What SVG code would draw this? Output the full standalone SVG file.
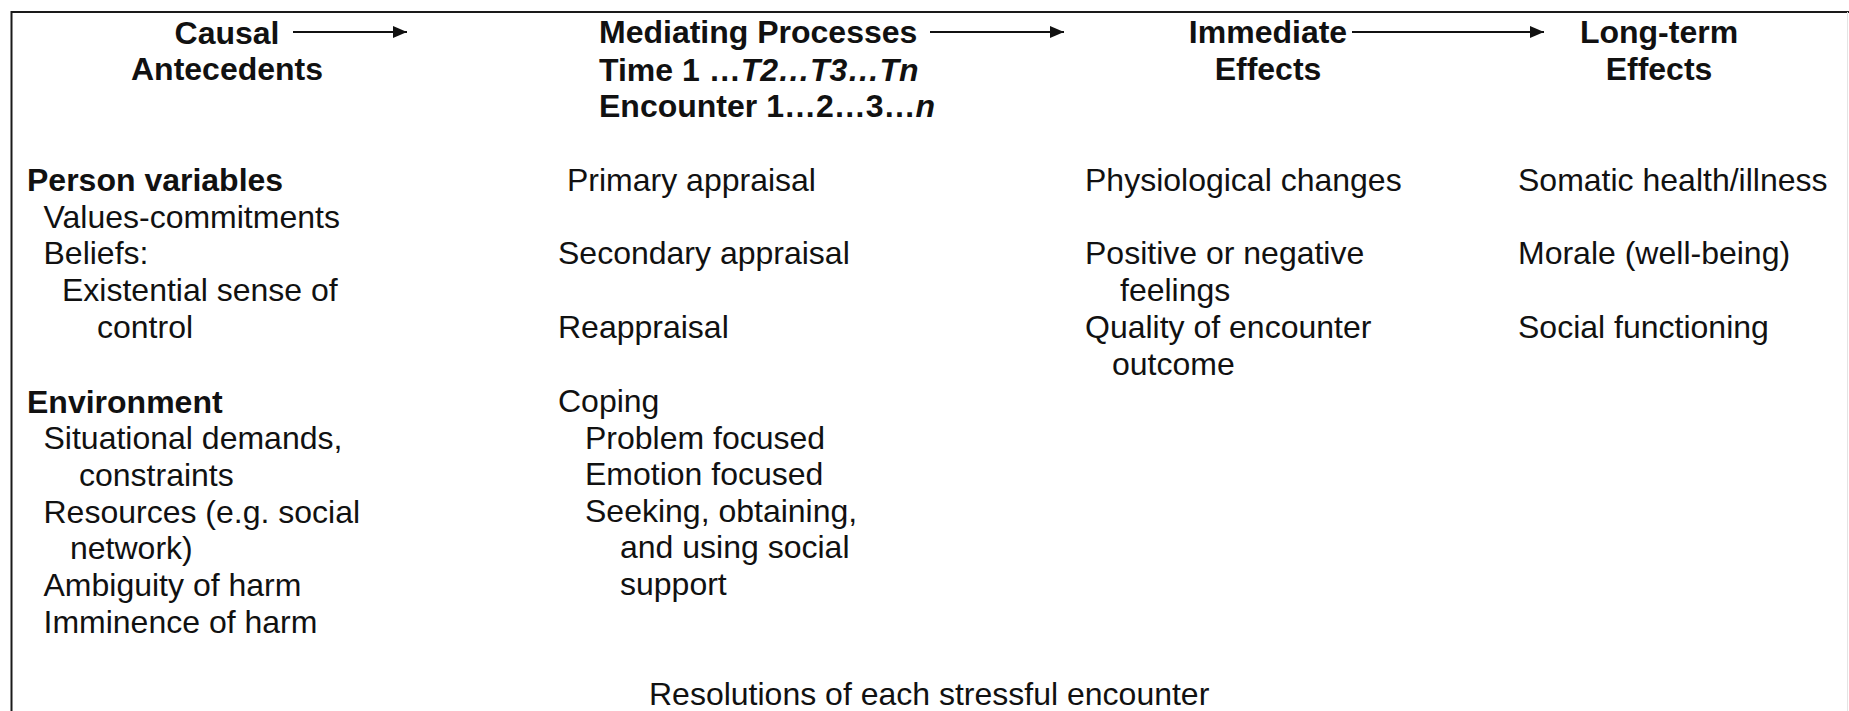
<svg xmlns="http://www.w3.org/2000/svg" width="1849" height="711" viewBox="0 0 1849 711">
  <defs>
    <marker id="arrowhead" markerWidth="14" markerHeight="12" refX="14" refY="6" orient="auto" markerUnits="userSpaceOnUse">
      <path d="M0,0 L14,6 L0,12 Z" fill="#111"/>
    </marker>
    <style>
      text { font-family: "Liberation Sans", Arial, sans-serif; font-size: 32px; fill: #111; }
      .b { font-weight: bold; }
      .h { font-weight: bold; }
      .c { text-anchor: middle; }
      .i { font-style: italic; }
      .frame { fill: none; stroke: #1a1a1a; stroke-width: 2; }
      .faint { fill: none; stroke: #e4e4e4; stroke-width: 1; }
      .conn { stroke: #111; stroke-width: 2; fill: none; marker-end: url(#arrowhead); }
    </style>
  </defs>
  <rect width="1849" height="711" fill="#fff"/>

  <g id="frame">
    <path class="frame" d="M11.5,711 L11.5,12 L1849,12"/>
    <line class="faint" x1="1847.5" y1="12" x2="1847.5" y2="711"/>
  </g>

  <g id="connectors">
    <line class="conn" x1="293" y1="32" x2="407" y2="32"/>
    <line class="conn" x1="930" y1="32" x2="1064" y2="32"/>
    <line class="conn" x1="1352" y1="32" x2="1544" y2="32"/>
  </g>

  <g id="col-causal-antecedents">
    <text class="h c" x="227" y="44">Causal</text>
    <text class="h c" x="227" y="80">Antecedents</text>
    <text class="b" x="27" y="191">Person variables</text>
    <text x="43.5" y="228">Values-commitments</text>
    <text x="43.5" y="264">Beliefs:</text>
    <text x="62" y="301">Existential sense of</text>
    <text x="97" y="338">control</text>
    <text class="b" x="27" y="413">Environment</text>
    <text x="43.5" y="449">Situational demands,</text>
    <text x="79" y="486">constraints</text>
    <text x="43.5" y="523">Resources (e.g. social</text>
    <text x="70" y="559">network)</text>
    <text x="43.5" y="596">Ambiguity of harm</text>
    <text x="43.5" y="633">Imminence of harm</text>
  </g>

  <g id="col-mediating-processes">
    <text class="h" x="599" y="43">Mediating Processes</text>
    <text class="h" x="599" y="81">Time 1 …<tspan class="i">T2…T3…Tn</tspan></text>
    <text class="h" x="599" y="117">Encounter 1…2…3…<tspan class="i">n</tspan></text>
    <text x="567" y="191">Primary appraisal</text>
    <text x="558" y="264">Secondary appraisal</text>
    <text x="558" y="338">Reappraisal</text>
    <text x="558" y="412">Coping</text>
    <text x="585" y="449">Problem focused</text>
    <text x="585" y="485">Emotion focused</text>
    <text x="585" y="522">Seeking, obtaining,</text>
    <text x="620" y="558">and using social</text>
    <text x="620" y="595">support</text>
  </g>

  <g id="col-immediate-effects">
    <text class="h c" x="1268" y="43">Immediate</text>
    <text class="h c" x="1268" y="80">Effects</text>
    <text x="1085" y="191">Physiological changes</text>
    <text x="1085" y="264">Positive or negative</text>
    <text x="1120" y="301">feelings</text>
    <text x="1085" y="338">Quality of encounter</text>
    <text x="1112" y="375">outcome</text>
  </g>

  <g id="col-longterm-effects">
    <text class="h c" x="1659" y="43">Long-term</text>
    <text class="h c" x="1659" y="80">Effects</text>
    <text x="1518" y="191">Somatic health/illness</text>
    <text x="1518" y="264">Morale (well-being)</text>
    <text x="1518" y="338">Social functioning</text>
  </g>

  <g id="footer">
    <text x="649" y="705">Resolutions of each stressful encounter</text>
  </g>
</svg>
